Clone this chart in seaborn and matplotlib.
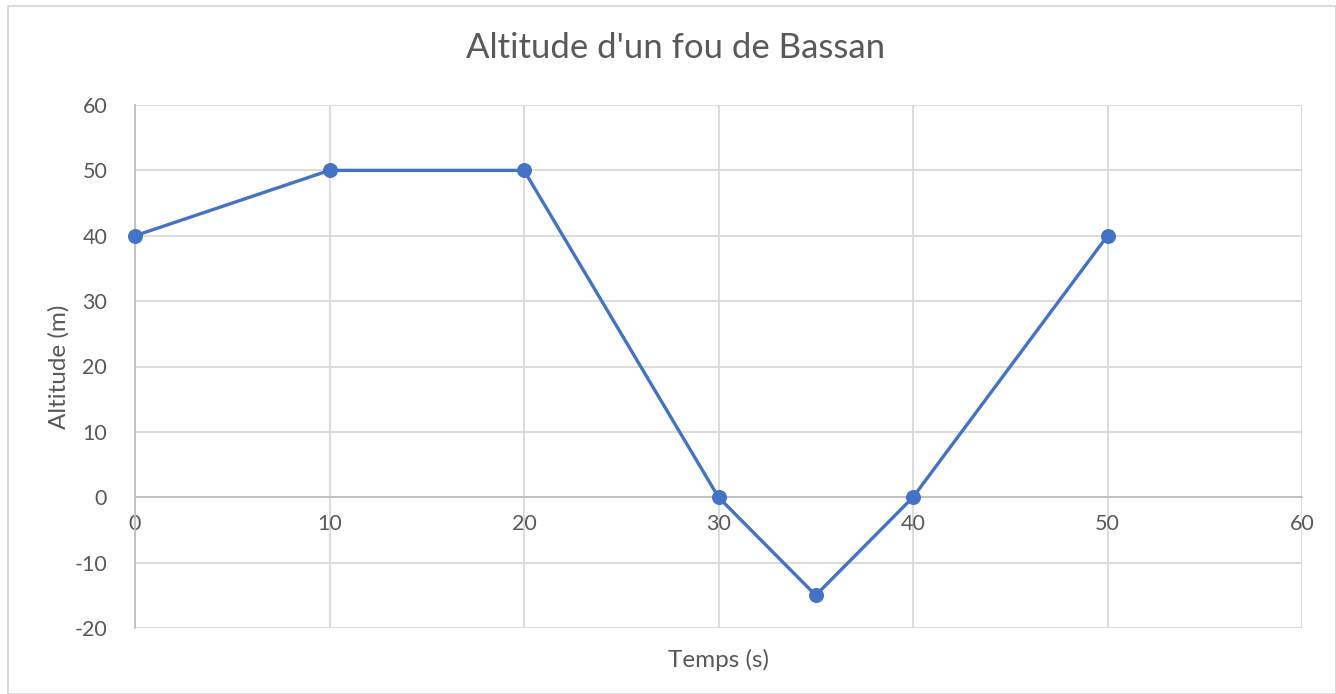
import matplotlib
matplotlib.use("Agg")
import matplotlib.pyplot as plt
import seaborn as sns
import pandas as pd

# --- data ---
temps = [0, 10, 20, 30, 35, 40, 50]
altitude = [40, 50, 50, 0, -15, 0, 40]

x_ticks = [0, 10, 20, 30, 40, 50, 60]
y_ticks = [-20, -10, 0, 10, 20, 30, 40, 50, 60]

df = pd.DataFrame({"Temps (s)": temps, "Altitude (m)": altitude})

sns.set_theme(style="white")
plt.rcParams['font.family'] = ['Lato', 'DejaVu Sans']
plt.rcParams['axes.unicode_minus'] = False

W, H = 1336, 694
fig = plt.figure(figsize=(W / 100, H / 100), dpi=100)
ax = fig.add_axes([135 / W, 1 - 628 / H, (1302 - 135) / W, (628 - 105) / H])

text_col = "#595959"
grid_col = "#D9D9D9"

sns.lineplot(data=df, x="Temps (s)", y="Altitude (m)", ax=ax,
             color="#4472C4", linewidth=2.4, marker="o", markersize=10,
             markeredgecolor="#4472C4", sort=False, zorder=5, clip_on=False)

ax.set_xlim(0, 60)
ax.set_ylim(-20, 60)
ax.set_xticks(x_ticks)
ax.set_yticks(y_ticks)
ax.grid(True, color=grid_col, linewidth=1.3)
ax.set_axisbelow(True)

for side in ["top", "right"]:
    ax.spines[side].set_visible(False)
ax.spines["left"].set_color("#BFBFBF")
ax.spines["left"].set_linewidth(1.3)
ax.spines["bottom"].set_position(("data", 0))
ax.spines["bottom"].set_color("#BFBFBF")
ax.spines["bottom"].set_linewidth(1.3)

ax.tick_params(axis="both", length=0, labelsize=15.5, labelcolor=text_col)
ax.tick_params(axis="x", pad=12)
ax.tick_params(axis="y", pad=20)

ax.set_xlabel("Temps (s)", fontsize=17.5, color=text_col)
ax.xaxis.set_label_coords(0.5, -0.04)
ax.set_ylabel("Altitude (m)", fontsize=17.5, color=text_col)
ax.yaxis.set_label_coords(-0.056, 0.5)

fig.text(0.506, 1 - 48 / H, "Altitude d'un fou de Bassan", ha="center", va="center",
         fontsize=25, color=text_col)

# outer chart border
fig.patches.append(plt.Rectangle((8 / W, 0), 1 - 8 / W, 1 - 6 / H, transform=fig.transFigure,
                                 fill=False, edgecolor="#D9D9D9", linewidth=1.3))

fig.savefig("out.png", dpi=100)
